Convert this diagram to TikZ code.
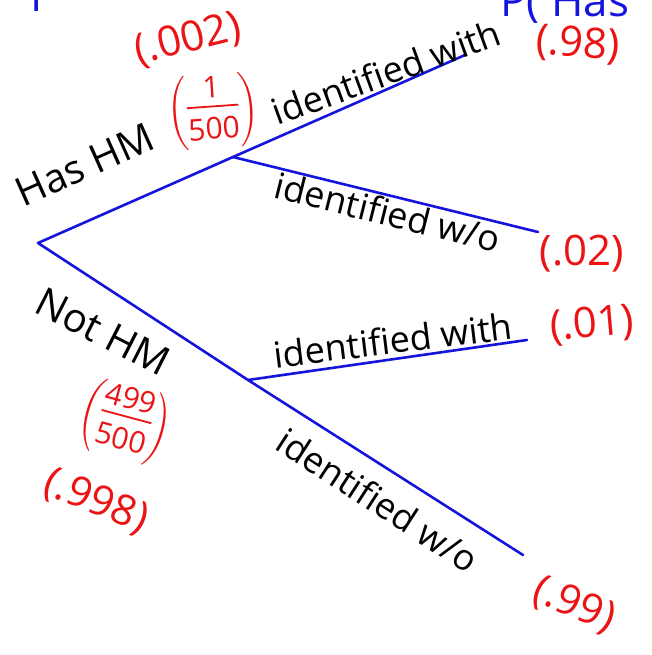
\documentclass[tikz,border=0pt]{standalone}
\usepackage{amsmath}
\usepackage{fontspec}
\setmainfont{Open Sans}
\definecolor{penblue}{RGB}{20,20,220}
\definecolor{penred}{RGB}{235,20,20}
\newcommand\handfrac[2]{$\left(\vcenter{\hbox{\setlength\arrayrulewidth{1.8pt}\begin{tabular}{@{}c@{}}#1\\[-3pt]\hline\rule{0pt}{32pt}#2\end{tabular}}}\right)$}
\begin{document}
\begin{tikzpicture}[x=1pt,y=-1pt,
  branch/.style={draw=penblue,line width=2.6pt,line cap=round,line join=round},
  lbl/.style={inner sep=0pt,font=\fontsize{36}{40}\selectfont},
  prob/.style={inner sep=0pt,text=penred,font=\fontsize{42}{46}\selectfont},
  frac/.style={inner sep=0pt,text=penred,font=\fontsize{30}{34}\selectfont},
  cut/.style={inner sep=0pt,text=penblue,font=\fontsize{44}{48}\selectfont}]
\useasboundingbox (0,0) rectangle (652,655);
\fill[white] (0,0) rectangle (652,655);
\clip (0,0) rectangle (652,655);
% tree points
\coordinate (root) at (38,243);
\coordinate (a) at (233,157);
\coordinate (b) at (248,380);
\coordinate (e1) at (465,55);
\coordinate (e2) at (538,232);
\coordinate (e3) at (527,340);
\coordinate (e4) at (523,555);
\draw[branch] (e1) -- (a) -- (root) -- (b) -- (e4);
\draw[branch] (a) -- (e2);
\draw[branch] (b) -- (e3);
% cut-off blue text at top
\node[cut,anchor=south west] (ptl) at (30,12) {P};
\node[cut,anchor=south west] (ptr) at (500,24) {P( Has};
% labels
\node[lbl,rotate=24,font=\fontsize{40}{44}\selectfont] (has) at (85,165) {Has HM};
\node[frac,rotate=4] (f1) at (213,112) {\handfrac{1}{500}};
\node[prob,rotate=14] (p002) at (188,40) {(.002)};
\node[lbl,rotate=20] (iw1) at (386,72) {identified with};
\node[prob,rotate=-4] (p98) at (578,45) {(.98)};
\node[lbl,rotate=-14] (io1) at (388,212) {identified w/o};
\node[prob] (p02) at (582,254) {(.02)};
\node[lbl,rotate=-27,font=\fontsize{40}{44}\selectfont] (not) at (103,332) {Not HM};
\node[frac,rotate=-15] (f2) at (125,422) {\handfrac{499}{500}};
\node[prob,rotate=-22] (p998) at (96,502) {(.998)};
\node[lbl,rotate=7] (iw2) at (393,340) {identified with};
\node[prob,rotate=5] (p01) at (592,325) {(.01)};
\node[lbl,rotate=-33] (io2) at (378,500) {identified w/o};
\node[prob,rotate=-22] (p99) at (574,605) {(.99)};
\end{tikzpicture}
\end{document}
